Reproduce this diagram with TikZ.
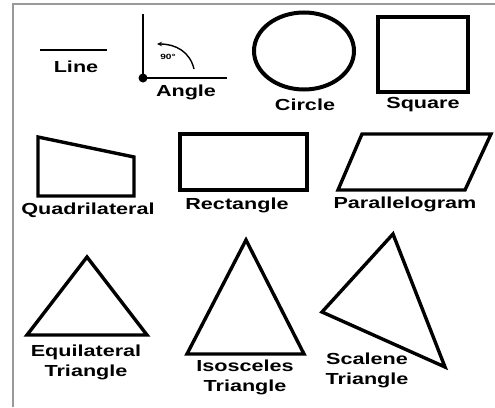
\documentclass[tikz,border=0pt]{standalone}
\usepackage{fontspec}
\newfontfamily\labfont[FakeStretch=1.35]{Liberation Sans}
\usetikzlibrary{arrows.meta}
\tikzset{
  lab/.style={font=\labfont\bfseries\fontsize{16}{20}\selectfont, inner sep=0pt, align=center},
  figline/.style={line width=3.4pt, line join=miter},
  thinline/.style={line width=2.8pt},
  frameline/.style={draw=gray!80, line width=2.2pt}
}
\begin{document}
\begin{tikzpicture}[x=1pt,y=-1pt]
\useasboundingbox (0,0) rectangle (495,407);
% frame
\draw[frameline] (13,407) -- (13,4) -- (495,4);
% line
\draw[thinline] (40,50) -- (107,50);
\node[lab] (tline) at (76,67) {Line};
% angle
\coordinate (v) at (143,78);
\draw[thinline] (143,14) -- (v) -- (227,78);
\fill (v) circle (4.5);
\draw[line width=1.4pt, -{Stealth[length=5pt,width=4.5pt]}] (194,69) .. controls (190,52) and (176,44) .. (157,44);
\node[font=\labfont\bfseries\fontsize{7.5}{8}\selectfont, inner sep=0pt] (t90) at (168,57) {90\textdegree};
\node[lab] (tangle) at (186,92) {Angle};
% circle
\draw[line width=4pt] (304,51) ellipse [x radius=50, y radius=38.5];
\node[lab] (tcircle) at (305,105) {Circle};
% square
\draw[figline] (378,17) rectangle (468,92);
\node[lab] (tsquare) at (423,105) {Square};
% quadrilateral
\draw[figline] (38,137) -- (134,157) -- (134,196) -- (38,196) -- cycle;
\node[lab] (tquad) at (88,210) {Quadrilateral};
% rectangle
\draw[figline] (180,134) rectangle (307,190);
\node[lab] (trect) at (237,205) {Rectangle};
% parallelogram
\draw[figline] (338,190) -- (465,190) -- (491,134) -- (362,134) -- cycle;
\node[lab] (tpar) at (405,204) {Parallelogram};
% equilateral
\draw[figline] (87,257) -- (147,335) -- (27,335) -- cycle;
\node[lab] (tequi) at (86,362) {Equilateral\\Triangle};
% isosceles
\draw[figline] (246,240) -- (304,354) -- (187,354) -- cycle;
\node[lab] (tiso) at (245,377) {Isosceles\\Triangle};
% scalene
\draw[figline] (393,234) -- (445,367) -- (322,312) -- cycle;
\node[lab] (tscal) at (367,370) {Scalene\\Triangle};
\end{tikzpicture}
\end{document}
